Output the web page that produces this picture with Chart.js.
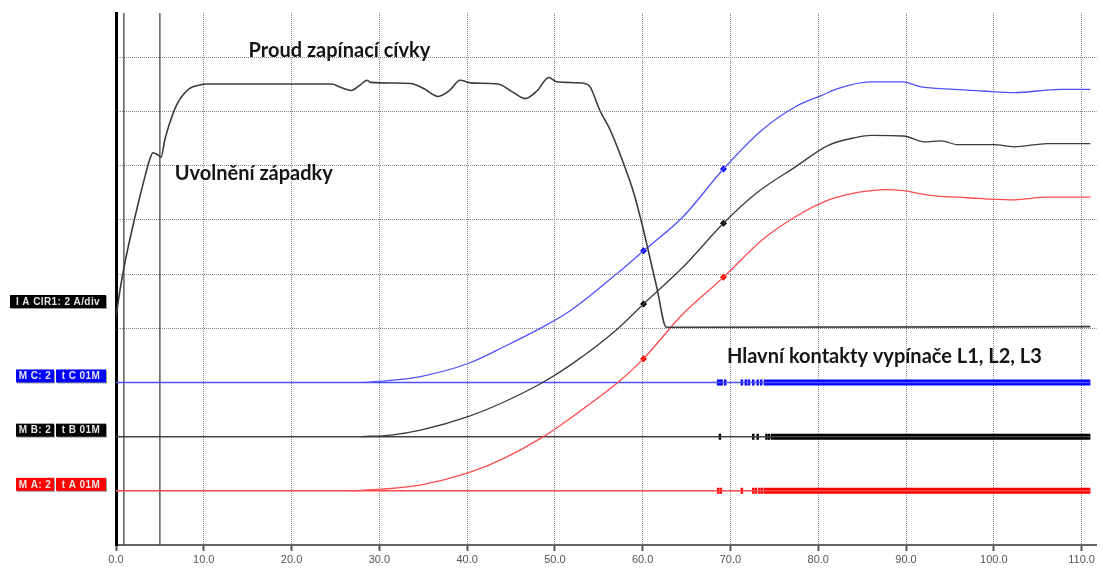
<!DOCTYPE html>
<html>
<head>
<meta charset="utf-8">
<script src="https://cdn.jsdelivr.net/npm/chart.js@4.4.1/dist/chart.umd.min.js"></script>
<style>
  html, body { margin: 0; padding: 0; background: #fff; }
</style>
</head>
<body>
<canvas id="graph" width="1103" height="569"></canvas>
<script>
// time in ms, vertical value in grid divisions (each dotted row = 1 div)

// coil current (I A CIR1)
const coilTime = [0, 0.5, 1.0, 1.8, 2.6, 3.3, 3.85, 4.2, 4.8, 5.15, 5.55, 6.1, 6.9, 7.6, 8.4, 9.5, 10.3,
  24.6, 25.4, 26.8, 27.8, 28.6, 29.0, 33.6, 35.0, 36.7, 38.0, 39.2, 40.4, 43.5, 45.2, 46.6, 48.0,
  49.3, 50.2, 53.4, 54.0, 55.1, 56.3, 57.8, 59.0, 59.9, 60.7, 61.6, 62.7, 111.0];
const coilValue = [4.21, 4.75, 5.2, 5.8, 6.35, 6.8, 7.12, 7.24, 7.20, 7.16, 7.47, 7.78, 8.12, 8.30, 8.43, 8.49, 8.51,
  8.51, 8.46, 8.39, 8.49, 8.58, 8.54, 8.52, 8.43, 8.28, 8.39, 8.58, 8.53, 8.51, 8.36, 8.24, 8.39,
  8.63, 8.55, 8.52, 8.46, 8.03, 7.66, 7.05, 6.49, 5.94, 5.39, 4.76, 4.02, 4.03];

// phase C (blue)
const cTime = [28.2, 31.35, 34.7, 40.1, 44.2, 48.7, 51.7, 54.0, 57.0, 60.1, 64.6, 69.2, 73.6, 77.4,
  80.4, 82.3, 85.9, 89.7, 91.6, 95.5, 98.7, 102.3, 107.5, 111.0];
const cValue = [3.0, 3.04, 3.11, 3.35, 3.66, 4.03, 4.32, 4.60, 5.00, 5.43, 6.06, 6.94, 7.66, 8.09,
  8.30, 8.43, 8.55, 8.55, 8.46, 8.41, 8.38, 8.35, 8.41, 8.41];

// phase B (black)
const bTime = [27.95, 31.35, 34.7, 40.1, 44.2, 48.4, 51.75, 57.0, 60.1, 64.6, 69.2, 72.9, 77.4,
  81.2, 84.2, 86.1, 89.7, 92.1, 94.0, 95.9, 100.0, 102.3, 106.1, 111.0];
const bValue = [2.0, 2.03, 2.12, 2.37, 2.64, 2.98, 3.32, 3.97, 4.45, 5.13, 5.94, 6.49, 6.98,
  7.38, 7.52, 7.56, 7.55, 7.44, 7.46, 7.39, 7.39, 7.35, 7.41, 7.41];

// phase A (red)
const aTime = [26.8, 30.25, 34.8, 40.1, 44.2, 48.7, 51.75, 57.4, 60.1, 64.6, 69.2, 73.6, 77.4,
  81.2, 84.2, 86.1, 87.6, 89.7, 92.5, 97.0, 101.9, 106.1, 111.0];
const aValue = [1.0, 1.03, 1.11, 1.33, 1.60, 2.00, 2.34, 3.03, 3.44, 4.27, 4.94, 5.63, 6.06,
  6.37, 6.50, 6.54, 6.56, 6.54, 6.46, 6.41, 6.37, 6.42, 6.42];

// cursor markers on the phase curves
const markerTime = [60.1, 69.2];
const cMarker = [5.43, 6.94];
const bMarker = [4.45, 5.94];
const aMarker = [3.44, 4.94];

// main contacts: levels, bounce ticks, closed from
const contactLevel = { C: 3, B: 2, A: 1 };
const cBounce = [68.6, 68.8, 69.0, 69.4, 71.3, 71.75, 72.1, 72.6, 73.1, 73.5];
const bBounce = [68.8, 72.6, 73.1, 74.1, 74.4];
const aBounce = [68.6, 68.9, 71.3, 72.6, 72.9, 73.3, 73.6];
const closedFrom = { C: 73.8, B: 74.6, A: 73.8 };
const traceEnd = 111.0;

// vertical cursors
const cursorTime = [0.9, 5.0];

const xMin = 0, xMax = 111.7, yMin = 0, yMax = 9.82;

const blue = "rgb(80,80,255)";
const black = "#3a3a3a";
const red = "rgb(255,75,75)";

function pts(xs, ys) {
  return xs.map((x, i) => ({ x: x, y: ys[i] }));
}
function line(data, color, width, extra) {
  return Object.assign({
    data: data,
    showLine: true,
    borderColor: color,
    borderWidth: width,
    pointRadius: 0,
    borderCapStyle: "butt",
  }, extra || {});
}
function markers(data, color) {
  return {
    data: data,
    showLine: false,
    pointStyle: "rectRot",
    pointRadius: 3.5,
    backgroundColor: color,
    borderColor: color,
    borderWidth: 0,
  };
}
function bounces(times, level, color) {
  return {
    data: times.map((t) => ({ x: t, y: level })),
    showLine: false,
    pointStyle: "line",
    rotation: 90,
    pointRadius: 3,
    borderColor: color,
    borderWidth: 2.5,
  };
}

const datasets = [];
// curves
datasets.push(line(pts(coilTime, coilValue), "#3c3c3c", 1.6, { cubicInterpolationMode: "monotone" }));
datasets.push(line(pts(cTime, cValue), blue, 1.3, { cubicInterpolationMode: "monotone" }));
datasets.push(line(pts(bTime, bValue), black, 1.3, { cubicInterpolationMode: "monotone" }));
datasets.push(line(pts(aTime, aValue), red, 1.3, { cubicInterpolationMode: "monotone" }));
datasets.push(markers(pts(markerTime, cMarker), "#0000ff"));
datasets.push(markers(pts(markerTime, bMarker), "#000000"));
datasets.push(markers(pts(markerTime, aMarker), "#ff0000"));
// contacts
datasets.push(line(pts([xMin, traceEnd], [contactLevel.C, contactLevel.C]), blue, 1.5));
datasets.push(line(pts([xMin, traceEnd], [contactLevel.B, contactLevel.B]), "#444", 1.5));
datasets.push(line(pts([xMin, traceEnd], [contactLevel.A, contactLevel.A]), red, 1.5));
datasets.push(line(pts([closedFrom.C, traceEnd], [contactLevel.C, contactLevel.C]), "#0000ff", 6));
datasets.push(line(pts([closedFrom.B, traceEnd], [contactLevel.B, contactLevel.B]), "#000000", 6));
datasets.push(line(pts([closedFrom.A, traceEnd], [contactLevel.A, contactLevel.A]), "#ff0000", 6));
datasets.push(bounces(cBounce, contactLevel.C, "#0000ff"));
datasets.push(bounces(bBounce, contactLevel.B, "#000000"));
datasets.push(bounces(aBounce, contactLevel.A, "#ff0000"));
// cursors
cursorTime.forEach((t) => {
  datasets.push(line(pts([t, t], [yMin, yMax]), "#333", 1.2));
});

function box(ctx, x, y, w, h, fill, text) {
  ctx.fillStyle = "#9a9a9a";
  ctx.fillRect(x + 1, y + 1, w, h);
  ctx.fillStyle = fill;
  ctx.fillRect(x, y, w, h);
  ctx.fillStyle = "#e6e6e6";
  ctx.font = "bold 10px 'Liberation Sans'";
  ctx.letterSpacing = "0.4px";
  ctx.textAlign = "center";
  ctx.textBaseline = "middle";
  ctx.fillText(text, x + w / 2, y + h / 2 + 0.5);
  ctx.letterSpacing = "0px";
}

const notes = {
  id: "notes",
  afterDraw(chart) {
    const ctx = chart.ctx;
    const x = chart.scales.x;
    const y = chart.scales.y;
    ctx.save();
    // annotations
    ctx.font = "bold 20px Lato";
    ctx.fillStyle = "#151515";
    ctx.textAlign = "left";
    ctx.textBaseline = "alphabetic";
    ctx.fillText("Proud zapínací cívky", x.getPixelForValue(15.1), 57);
    ctx.fillText("Uvolnění západky", x.getPixelForValue(6.7), 180);
    ctx.fillText("Hlavní kontakty vypínače L1, L2, L3", x.getPixelForValue(69.6), 363);

    // channel labels on the left
    box(ctx, 10, 295, 96, 13, "#000", "I A CIR1: 2 A/div");
    const rows = [
      ["C", "#0000ff"],
      ["B", "#000000"],
      ["A", "#ff0000"],
    ];
    rows.forEach(([ph, col]) => {
      const bottom = y.getPixelForValue(contactLevel[ph]);
      box(ctx, 16, bottom - 13, 38, 13, col, "M " + ph + ": 2");
      box(ctx, 56, bottom - 13, 50, 13, col, "t " + ph + " 01M");
    });
    ctx.restore();
  },
};

const xTicks = [0, 10, 20, 30, 40, 50, 60, 70, 80, 90, 100, 110];

const chart = new Chart(document.getElementById("graph").getContext("2d"), {
  type: "scatter",
  data: { datasets: datasets },
  options: {
    responsive: false,
    animation: false,
    devicePixelRatio: 1,
    layout: { padding: { left: 116, top: 13, right: 0, bottom: 0 } },
    plugins: { legend: { display: false }, tooltip: { enabled: false } },
    scales: {
      x: {
        type: "linear",
        min: xMin,
        max: xMax,
        afterFit: (scale) => { scale.height = 24; },
        afterBuildTicks: (scale) => { scale.ticks = xTicks.map((v) => ({ value: v })); },
        ticks: {
          maxRotation: 0,
          padding: 2,
          color: "#555",
          font: { family: "Liberation Sans", size: 11 },
          callback: (v) => Number(v).toFixed(1),
        },
        grid: {
          color: (c) => (c.tick && c.tick.value === 0 ? "rgba(0,0,0,0)" : "#888"),
          lineWidth: 1,
          tickColor: "#555",
          tickLength: 6,
          tickWidth: 2,
          tickBorderDash: [],
        },
        border: { display: true, color: "#666", width: 2, dash: [1, 1] },
      },
      y: {
        type: "linear",
        min: yMin,
        max: yMax,
        afterFit: (scale) => { scale.width = 0; },
        ticks: { display: false, stepSize: 1, includeBounds: false },
        grid: {
          drawTicks: false,
          color: (c) => {
            const v = c.tick ? c.tick.value : -1;
            return Number.isInteger(v) && v >= 4 && v <= 9 ? "#888" : "rgba(0,0,0,0)";
          },
          lineWidth: 1,
        },
        border: { display: true, color: "#000", width: 3, dash: [1, 1] },
      },
    },
  },
  plugins: [notes],
});
</script>
</body>
</html>
